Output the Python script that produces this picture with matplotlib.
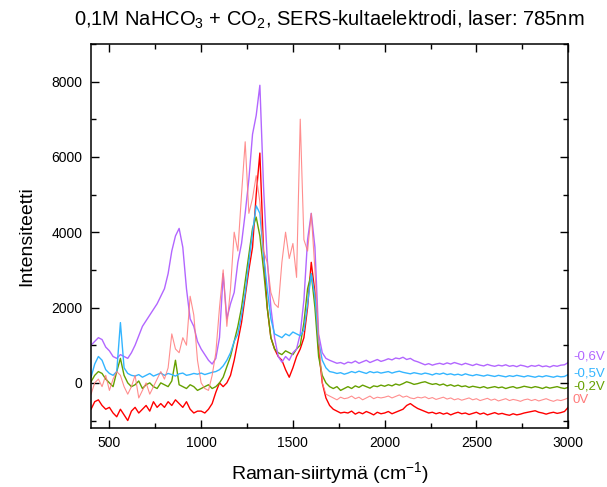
import numpy as np
import matplotlib
matplotlib.use("Agg")
import matplotlib.pyplot as plt
from matplotlib.ticker import MultipleLocator

plt.rcParams['font.family'] = ['Liberation Sans', 'DejaVu Sans']
plt.rcParams['mathtext.fontset'] = 'custom'
plt.rcParams['mathtext.rm'] = 'Liberation Sans'
plt.rcParams['mathtext.it'] = 'Liberation Sans:italic'

## Data: Raman shift every 20 cm-1, intensities per electrode potential

shift = np.arange(400, 3001, 20)

# -0,6V
i_06 = [
    1000, 1100, 1200, 1150, 950, 850, 700, 650, 750, 700,        # 400
    650, 800, 1000, 1250, 1500, 1650, 1800, 1950, 2100, 2300,    # 600
    2500, 2900, 3500, 3900, 4100, 3600, 2500, 1700, 1500, 1100,  # 800
    900, 750, 600, 500, 650, 1200, 2900, 1700, 2100, 2400,       # 1000
    3200, 3700, 4500, 5400, 6600, 7100, 7900, 5200, 3300, 2000,  # 1200
    1200, 700, 550, 700, 600, 800, 900, 1300, 2200, 3800,        # 1400
    4500, 3600, 1300, 800, 650, 600, 560, 520, 540, 500,         # 1600
    550, 530, 580, 520, 560, 600, 540, 580, 620, 570,            # 1800
    600, 640, 610, 660, 640, 680, 620, 650, 590, 560,            # 2000
    520, 480, 510, 470, 500, 520, 490, 530, 500, 540,            # 2200
    510, 480, 520, 490, 460, 500, 470, 450, 490, 460,            # 2400
    440, 470, 450, 480, 440, 460, 430, 470, 450, 420,            # 2600
    460, 440, 470, 430, 450, 420, 460, 440, 470, 480,            # 2800
    540]

# -0,5V
i_05 = [
    150, 500, 700, 600, 350, 250, 200, 300, 1600, 400,
    250, 200, 180, 220, 150, 200, 250, 180, 220, 260,
    200, 250, 220, 180, 240, 260, 200, 220, 250, 230,
    260, 220, 250, 280, 300, 350, 450, 600, 800, 1100,
    1300, 1800, 2400, 3200, 4000, 4700, 4500, 3400, 2500, 1700,
    1300, 1250, 1200, 1300, 1250, 1350, 1300, 1250, 1400, 2100,
    2900, 2300, 1100, 600, 400, 300, 280, 250, 270, 230,
    260, 300, 270, 310, 280, 250, 300, 270, 290, 260,
    280, 300, 260, 290, 310, 280, 260, 240, 270, 250,
    230, 260, 240, 210, 250, 230, 260, 220, 240, 210,
    230, 200, 240, 210, 190, 220, 200, 180, 210, 190,
    170, 200, 180, 160, 190, 170, 200, 180, 160, 190,
    170, 150, 180, 160, 190, 170, 150, 180, 160, 170,
    220]

# -0,2V
i_02 = [
    30, 200, 300, 250, 100, 0, -100, 300, 650, 200,
    0, -100, -50, 50, -150, -50, 0, -100, -150, 0,
    -50, -100, 50, 600, -50, -100, -150, -50, -100, -200,
    -150, -100, -50, -150, -100, 0, 150, 430, 700, 1100,
    1500, 2000, 2700, 3400, 4100, 4400, 3900, 3000, 2000, 1200,
    900, 800, 750, 850, 800, 750, 900, 1000, 1600, 2500,
    2900, 2000, 700, 200, 0, -100, -150, -100, -200, -150,
    -100, -150, -80, -120, -60, -100, -140, -80, -100, -60,
    -90, -50, -80, -30, -60, -20, 30, 0, -40, -20,
    10, 30, -10, -40, -20, -60, -30, -80, -50, -90,
    -60, -100, -80, -120, -90, -110, -130, -100, -140, -120,
    -100, -130, -110, -150, -120, -100, -140, -120, -90, -110,
    -130, -100, -120, -150, -110, -140, -120, -100, -130, -150,
    -120]

# 0V
i_0 = [
    -300, 0, 100, -100, 200, -200, 100, 300, 200, -100,
    -300, -100, 200, -400, -200, 0, -300, -100, 100, 300,
    100, 400, 1300, 900, 800, 1200, 1000, 2300, 1800, 600,
    0, -150, -200, 200, 800, 2000, 3000, 1500, 2500, 4000,
    3500, 5000, 6400, 4500, 4900, 5500, 4800, 3500, 3200, 2400,
    2100, 2000, 3200, 4000, 3300, 3700, 2800, 7000, 3800, 3500,
    4500, 3000, 1200, 0, -300, -350, -400, -450, -380, -420,
    -400, -350, -420, -380, -450, -400, -350, -420, -380, -400,
    -380, -350, -400, -360, -320, -380, -350, -400, -420, -380,
    -400, -370, -420, -390, -440, -410, -380, -430, -400, -450,
    -420, -460, -430, -400, -450, -420, -470, -440, -410, -460,
    -430, -480, -450, -420, -470, -440, -460, -490, -450, -430,
    -470, -440, -480, -450, -420, -460, -490, -450, -470, -440,
    -400]

# unlabelled reference trace
i_ref = [
    -700, -500, -450, -600, -700, -650, -800, -900, -700, -850,
    -1000, -750, -650, -800, -700, -600, -750, -500, -650, -550,
    -650, -500, -600, -450, -550, -650, -500, -700, -800, -750,
    -750, -800, -700, -550, -250, 0, -100, 0, 200, 600,
    1100, 1600, 2300, 3000, 3600, 5000, 6100, 3500, 2000, 1200,
    900, 700, 600, 350, 150, 400, 700, 900, 1200, 2000,
    3200, 2400, 900, 0, -400, -600, -700, -750, -800, -780,
    -800, -750, -830, -780, -820, -760, -800, -850, -780, -820,
    -800, -760, -820, -780, -740, -700, -600, -550, -620, -680,
    -720, -760, -800, -780, -820, -790, -830, -800, -850, -810,
    -780, -820, -800, -840, -810, -780, -830, -800, -850, -820,
    -790, -830, -810, -840, -860, -820, -850, -830, -800, -780,
    -760, -740, -780, -800, -830, -800, -780, -810, -790, -760,
    -650]

labels = ['-0,6V', '-0,5V', '-0,2V', '0V']
label_y = [690, 240, -100, -450]

## Plotting

fig = plt.figure(figsize=(6.07, 4.87), dpi=100)
ax = fig.add_axes([0.150, 0.121, 0.786, 0.789])

c_ref, c_02, c_06, c_05, c_0 = '#ff0000', '#66a000', '#b266ff', '#33b5ff', '#ff7a7a'
ax.plot(shift, i_ref, color=c_ref, lw=1.0)
ax.plot(shift, i_02, color=c_02, lw=1.0)
ax.plot(shift, i_06, color=c_06, lw=1.0)
ax.plot(shift, i_05, color=c_05, lw=1.0)
ax.plot(shift, i_0, color=c_0, lw=0.8, alpha=0.85)

trans = ax.get_yaxis_transform()
for lab, y, c in zip(labels, label_y, [c_06, c_05, c_02, c_0]):
    ax.text(1.01, y, lab, color=c, fontsize=9.5, va='center', ha='left',
            transform=trans, clip_on=False)

ax.set_xlim(400, 3000)
ax.set_ylim(-1200, 9000)
ax.xaxis.set_major_locator(MultipleLocator(500))
ax.xaxis.set_minor_locator(MultipleLocator(250))
ax.yaxis.set_major_locator(MultipleLocator(2000))
ax.yaxis.set_minor_locator(MultipleLocator(1000))
ax.tick_params(which='both', direction='in', top=True, right=True, labelsize=10)
ax.tick_params(which='major', length=6, width=1)
ax.tick_params(which='minor', length=3.5, width=1)
ax.tick_params(axis='x', pad=6)
ax.tick_params(axis='y', pad=6)
for s in ax.spines.values():
    s.set_linewidth(1.1)

ax.set_xlabel('Raman-siirtymä (cm$^{-1}$)', fontsize=14, labelpad=7)
ax.set_ylabel('Intensiteetti', fontsize=14, labelpad=12)
ax.set_title('0,1M NaHCO$_3$ + CO$_2$, SERS-kultaelektrodi, laser: 785nm',
             fontsize=14.5, pad=13)

fig.savefig('out.png', dpi=100)
